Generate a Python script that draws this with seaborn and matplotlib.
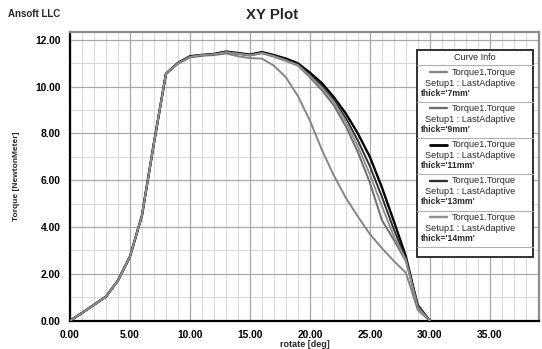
import numpy as np
import pandas as pd
import matplotlib
matplotlib.use("Agg")
import matplotlib.pyplot as plt
from matplotlib.ticker import MultipleLocator, FormatStrFormatter
from matplotlib.patches import Rectangle
from matplotlib.lines import Line2D
import seaborn as sns

# ---------------- data ----------------
rotate = list(range(0, 31))
series_names = ["thick='7mm'", "thick='9mm'", "thick='11mm'", "thick='13mm'", "thick='14mm'"]
torque_7mm = [0, 0.33, 0.68, 1.03, 1.72, 2.74, 4.5, 7.6, 10.55, 10.98, 11.25, 11.32, 11.35, 11.42, 11.3,
              11.22, 11.2, 10.9, 10.4, 9.6, 8.55, 7.3, 6.2, 5.25, 4.45, 3.7, 3.1, 2.55, 2.05, 0.45, 0.0]
torque_9mm = [0, 0.33, 0.68, 1.03, 1.72, 2.74, 4.5, 7.6, 10.55, 11.0, 11.27, 11.34, 11.37, 11.47, 11.4,
              11.33, 11.43, 11.28, 11.1, 10.9, 10.4, 9.85, 9.2, 8.3, 7.2, 5.9, 4.3, 3.45, 2.55, 0.7, 0.0]
torque_11mm = [0, 0.33, 0.68, 1.03, 1.72, 2.74, 4.5, 7.6, 10.55, 11.02, 11.3, 11.36, 11.4, 11.5, 11.44,
               11.37, 11.48, 11.35, 11.2, 11.0, 10.6, 10.15, 9.55, 8.85, 8.0, 7.0, 5.7, 4.25, 2.75, 0.6, 0.0]
torque_13mm = [0, 0.33, 0.68, 1.03, 1.72, 2.74, 4.5, 7.6, 10.55, 11.0, 11.28, 11.35, 11.38, 11.48, 11.42,
               11.35, 11.45, 11.32, 11.15, 10.95, 10.5, 10.05, 9.45, 8.65, 7.7, 6.6, 5.3, 3.9, 2.65, 0.65, 0.0]
torque_14mm = [0, 0.33, 0.68, 1.03, 1.72, 2.74, 4.5, 7.6, 10.55, 11.0, 11.27, 11.35, 11.38, 11.47, 11.41,
               11.34, 11.44, 11.3, 11.12, 10.92, 10.45, 9.95, 9.35, 8.5, 7.45, 6.25, 4.9, 3.6, 2.6, 0.55, 0.0]
all_torques = [torque_7mm, torque_9mm, torque_11mm, torque_13mm, torque_14mm]

line_colors = ["#858585", "#6e6e6e", "#000000", "#303030", "#909090"]
line_widths = [1.4, 1.4, 1.7, 1.4, 1.4]

rows = []
for name, vals in zip(series_names, all_torques):
    for r, t in zip(rotate, vals):
        rows.append({"rotate": r, "torque": t, "thick": name})
df = pd.DataFrame(rows)

# ---------------- figure ----------------
sns.set_style("white")
plt.rcParams["font.family"] = ["Liberation Sans", "DejaVu Sans"]

fig = plt.figure(figsize=(5.42, 3.49), dpi=100)
W, H = 542, 349
ax = fig.add_axes([70 / W, 1 - 320.7 / H, (539 - 70) / W, (320.7 - 31.7) / H])

sns.lineplot(data=df, x="rotate", y="torque", hue="thick", hue_order=series_names,
             palette=dict(zip(series_names, line_colors)), legend=False, sort=False,
             ax=ax, zorder=3)
for ln, lw in zip(ax.lines, line_widths):
    ln.set_linewidth(lw)
    ln.set_solid_joinstyle("round")

ax.set_xlim(0, 39.1)
ax.set_ylim(0, 12.35)
ax.xaxis.set_major_locator(MultipleLocator(5))
ax.xaxis.set_minor_locator(MultipleLocator(1))
ax.yaxis.set_major_locator(MultipleLocator(2))
ax.yaxis.set_minor_locator(MultipleLocator(0.4))
ax.xaxis.set_major_formatter(FormatStrFormatter("%.2f"))
ax.yaxis.set_major_formatter(FormatStrFormatter("%.2f"))

ax.grid(True, which="major", color="#a8a8a8", linewidth=0.9, zorder=0)
ax.grid(True, which="minor", axis="x", color="#d6d6d6", linewidth=0.7, zorder=0)
for yv in range(1, 13, 2):
    ax.axhline(yv, color="#d6d6d6", linewidth=0.7, zorder=0)
ax.set_axisbelow(True)

ax.tick_params(axis="both", which="major", direction="out", length=5, width=1.2,
               labelsize=7.4, pad=2, colors="black")
ax.tick_params(axis="both", which="minor", direction="out", length=3, width=0.9, colors="black")
for lab in ax.get_xticklabels() + ax.get_yticklabels():
    lab.set_fontweight("bold")

for side in ["left", "bottom"]:
    ax.spines[side].set_color("black")
    ax.spines[side].set_linewidth(1.6)
for side in ["top", "right"]:
    ax.spines[side].set_color("#8c8c8c")
    ax.spines[side].set_linewidth(1.6)

ax.set_xlabel("rotate [deg]", fontsize=6.5, fontweight="bold", labelpad=0)
ax.set_ylabel("Torque [NewtonMeter]", fontsize=6, fontweight="bold", labelpad=11)

fig.text(272 / W, 1 - 15 / H, "XY Plot", ha="center", va="center", fontsize=10.8, fontweight="bold")
fig.text(8 / W, 1 - 14 / H, "Ansoft LLC", ha="left", va="center", fontsize=7, fontweight="bold")

# ---------------- legend box (Curve Info) ----------------
def px(x, y):
    return x / W, 1 - y / H

bx0, bx1, by0, by1 = 416.7, 533, 50, 256.7
rect = Rectangle(px(bx0, by1), (bx1 - bx0) / W, (by1 - by0) / H, transform=fig.transFigure,
                 facecolor="white", edgecolor="#202020", linewidth=1.3, zorder=10)
fig.add_artist(rect)
fig.text(*px((bx0 + bx1) / 2, 57.5), "Curve Info", ha="center", va="center", fontsize=6.5, zorder=11)
sep_ys = [65, 101.7, 137.7, 174.3, 210.5, 246.5]
for sy in sep_ys:
    fig.add_artist(Line2D([bx0 / W, bx1 / W], [1 - sy / H, 1 - sy / H], transform=fig.transFigure,
                          color="#b0b0b0", linewidth=0.8, zorder=11))
for i, (name, col, lw) in enumerate(zip(series_names, line_colors, line_widths)):
    top = 72.3 + i * 36.2
    fig.add_artist(Line2D([430 / W, 447 / W], [1 - top / H, 1 - top / H], transform=fig.transFigure,
                          color=col, linewidth=lw + 0.3, zorder=11))
    fig.text(*px(451.5, top), "Torque1.Torque", ha="left", va="center", fontsize=6.6, zorder=11)
    fig.text(*px(470, top + 11), "Setup1 : LastAdaptive", ha="center", va="center", fontsize=6.6, zorder=11)
    fig.text(*px(421, top + 21), name, ha="left", va="center", fontsize=6.2, fontweight="bold", zorder=11)

fig.savefig("out.png", dpi=100)
